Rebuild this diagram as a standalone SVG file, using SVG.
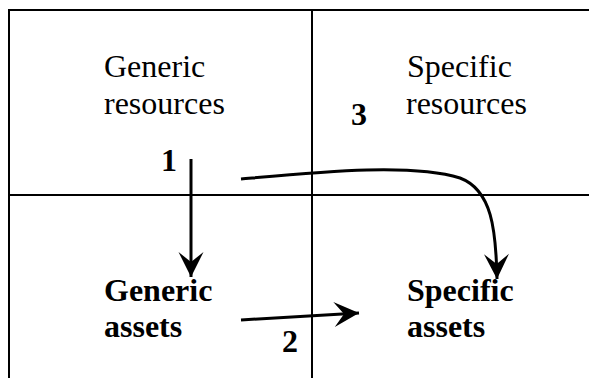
<svg xmlns="http://www.w3.org/2000/svg" width="589" height="378" viewBox="0 0 589 378">
<style>
.grid{stroke:#000;stroke-width:2;fill:none}
.arr{stroke:#000;stroke-width:3;fill:none;marker-end:url(#ah)}
</style>
<defs>
<marker id="ah" viewBox="-26 -14 28 28" refX="0" refY="0" markerWidth="28" markerHeight="28" markerUnits="userSpaceOnUse" orient="auto">
<path d="M0,0 L-25,-12.5 L-15,0 L-25,12.5 Z" fill="#000"/>
</marker>
</defs>
<rect width="589" height="378" fill="#fff"/>
<g id="grid">
<line class="grid" x1="9" y1="10" x2="589" y2="10"/>
<line class="grid" x1="9" y1="9" x2="9" y2="378"/>
<line class="grid" x1="312" y1="10" x2="312" y2="378"/>
<line class="grid" x1="9" y1="195" x2="589" y2="195"/>
</g>
<g font-family="Liberation Serif, Times New Roman, serif" font-size="32" fill="#000">
<g id="generic-resources"><text x="104" y="77">Generic</text><text x="104" y="114">resources</text></g>
<g id="specific-resources"><text x="407" y="77">Specific</text><text x="406" y="114">resources</text></g>
<g id="generic-assets" font-weight="bold"><text x="104" y="301">Generic</text><text x="104" y="337">assets</text></g>
<g id="specific-assets" font-weight="bold"><text x="407" y="301">Specific</text><text x="407" y="337">assets</text></g>
</g>
<g id="connectors">
<path class="arr" d="M191,159 L191,277"/>
<path class="arr" d="M241,320 L359,313"/>
<path class="arr" d="M241,179 C320,172 410,163 460,178 C492,190 496,230 497,279"/>
</g>
<g id="labels" font-family="Liberation Serif, Times New Roman, serif" font-size="32" font-weight="bold" fill="#000">
<text x="161" y="171">1</text>
<text x="282" y="352">2</text>
<text x="351" y="125">3</text>
</g>
</svg>
